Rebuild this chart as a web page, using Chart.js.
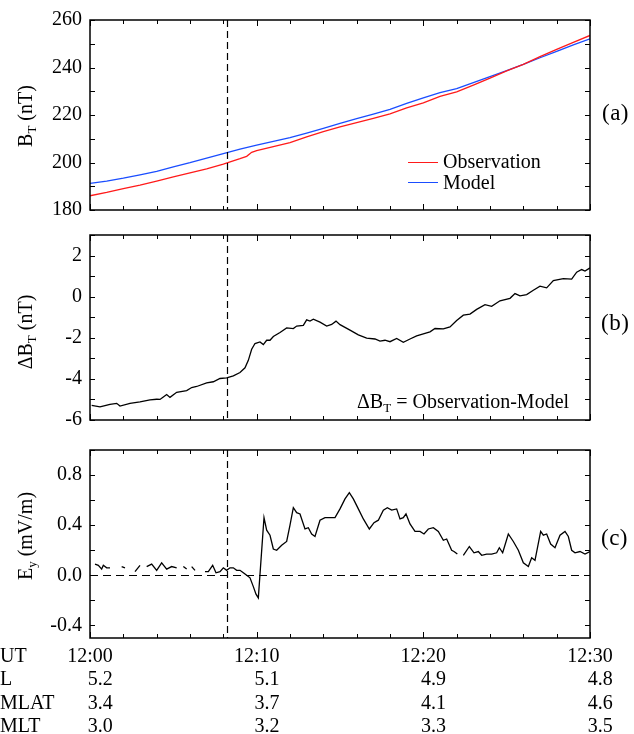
<!DOCTYPE html>
<html>
<head>
<meta charset="utf-8">
<script src="https://cdn.jsdelivr.net/npm/chart.js@4.4.1/dist/chart.umd.min.js"></script>
<style>
  body { margin: 0; background: #fff; }
  #wrap { position: relative; width: 634px; height: 734px; overflow: hidden;
          font-family: 'Liberation Serif', 'Times New Roman', serif; color: #000; }
  canvas { position: absolute; left: 0; }
  .txt { position: absolute; font-size: 20px; line-height: 20px; white-space: nowrap; }
  .txt sub { font-size: 13px; line-height: 0; vertical-align: -4px; }
  .ytitle { transform: translate(-50%, -50%) rotate(-90deg); }
  .tag { font-size: 23px; line-height: 23px; letter-spacing: 0.5px; }
  .key { position: absolute; width: 30px; height: 0; }
</style>
</head>
<body>
<div id="wrap">
  <canvas id="panelA" width="634" height="230" style="top:0px"></canvas>
  <canvas id="panelB" width="634" height="225" style="top:215px"></canvas>
  <canvas id="panelC" width="634" height="304" style="top:430px"></canvas>

  <div class="txt ytitle" style="left:25px; top:116px">B<sub>T</sub> (nT)</div>
  <div class="txt ytitle" style="left:25px; top:332px">ΔB<sub>T</sub> (nT)</div>
  <div class="txt ytitle" style="left:25px; top:536px">E<sub>y</sub> (mV/m)</div>

  <div class="txt tag" style="left:602px; top:101px">(a)</div>
  <div class="txt tag" style="left:601px; top:311px">(b)</div>
  <div class="txt tag" style="left:601px; top:526px">(c)</div>

  <div class="key" style="left:408px; top:162px; border-top:1.5px solid #ff1a1a"></div>
  <div class="txt" style="left:443px; top:151px">Observation</div>
  <div class="key" style="left:408px; top:182px; border-top:1.5px solid #1a4dff"></div>
  <div class="txt" style="left:443px; top:172px">Model</div>

  <div class="txt" style="left:357px; top:391px">ΔB<sub>T</sub> = Observation-Model</div>
</div>

<script>
// time axis is minutes after 12:00 UT
const markerT = 8.2;

// panel (a): total field
const obsTime = [0,1,2,3,4,5,6,7,8,9,9.4,9.7,10,11,12,13,14,15,16,17,18,19,20,21,22,23,24,25,26,27,28,29,30];
const obsBT = [186.0,187.4,189.0,190.5,192.2,193.9,195.6,197.3,199.3,201.6,202.6,204.3,205.0,206.7,208.4,210.8,
               213.0,215.0,216.8,218.6,220.5,223.0,225.1,227.8,229.7,232.6,235.5,238.6,241.3,244.6,247.6,250.6,253.5];
const modelTime = [0,1,2,3,4,5,6,7,8,9,10,11,12,13,14,15,16,17,18,19,20,21,22,23,24,25,26,27,28,29,30];
const modelBT = [191.2,192.2,193.4,194.8,196.3,198.2,199.9,201.8,203.7,205.6,207.3,208.9,210.5,212.4,214.4,216.5,
                 218.5,220.4,222.4,224.9,227.2,229.4,231.1,233.6,236.2,238.7,241.3,244.1,246.8,249.5,252.1];

// panel (b): observation - model
const dbTime = [0.1,0.6,1.2,1.6,1.8,2.4,3.0,3.6,4.0,4.2,4.4,4.6,4.8,5.2,5.8,6.1,6.4,7.0,7.4,7.8,8.2,8.6,9.0,9.3,9.5,
                9.7,9.9,10.2,10.4,10.6,10.8,11.0,11.4,11.8,12.2,12.4,12.8,13.0,13.2,13.4,13.8,14.2,14.5,14.76,15.0,
                15.6,16.1,16.6,17.1,17.4,17.7,18.0,18.4,18.8,19.2,19.6,20.0,20.4,20.7,21.2,21.6,22.0,22.4,22.8,23.2,
                23.7,24.1,24.6,25.2,25.5,25.8,26.2,26.6,27.0,27.4,27.8,28.4,28.9,29.2,29.5,29.7,30.0];
const dbVal = [-5.29,-5.36,-5.24,-5.19,-5.32,-5.19,-5.12,-5.02,-4.99,-5.00,-4.88,-4.76,-4.90,-4.65,-4.57,-4.42,-4.37,
               -4.19,-4.14,-3.98,-3.95,-3.85,-3.69,-3.46,-3.10,-2.56,-2.28,-2.20,-2.33,-2.12,-2.12,-1.94,-1.74,-1.52,
               -1.55,-1.43,-1.40,-1.13,-1.19,-1.10,-1.24,-1.43,-1.35,-1.19,-1.36,-1.63,-1.86,-2.02,-2.06,-2.16,-2.12,
               -2.19,-2.03,-2.22,-2.06,-1.91,-1.81,-1.71,-1.55,-1.57,-1.47,-1.16,-0.90,-0.85,-0.62,-0.39,-0.47,-0.20,
               -0.08,0.15,0.04,0.10,0.31,0.51,0.43,0.78,0.88,0.85,1.19,1.32,1.25,1.40];

// panel (c): electric field, null = data gap
const eyTime = [0.3,0.5,0.7,0.8,1.0,1.2,1.5,1.9,2.1,2.4,2.7,3.0,3.2,3.4,3.7,4.0,4.3,4.6,4.9,5.2,5.4,5.6,5.8,5.95,
                6.1,6.3,6.6,6.9,7.1,7.36,7.56,7.8,8.0,8.2,8.4,8.6,8.8,9.0,9.2,9.4,9.6,9.8,9.96,10.1,10.44,10.6,10.8,
                11.0,11.2,11.5,11.8,12.0,12.2,12.4,12.6,12.9,13.1,13.3,13.5,13.8,14.1,14.4,14.7,15.0,15.3,15.56,15.8,
                16.1,16.4,16.76,17.04,17.3,17.6,17.84,18.1,18.4,18.6,18.8,18.96,19.2,19.5,19.8,20.04,20.3,20.6,20.9,
                21.2,21.4,21.7,21.84,22.04,22.2,22.4,22.76,23.04,23.3,23.5,23.8,24.1,24.4,24.56,24.76,25.1,25.4,25.7,
                26.0,26.3,26.5,26.7,27.04,27.2,27.4,27.64,27.9,28.2,28.5,28.7,28.9,29.1,29.4,29.7,30.0];
const eyVal = [0.09,0.08,0.05,0.08,0.06,0.06,null,0.07,0.06,null,0.03,0.08,null,0.07,0.09,0.04,0.10,0.05,0.07,0.06,
               null,0.07,0.05,null,0.07,0.04,null,0.03,0.03,0.08,0.02,0.03,0.06,0.04,0.06,0.06,0.04,0.04,0.02,0.00,
               -0.02,-0.09,-0.15,-0.18,0.46,0.36,0.32,0.21,0.20,0.24,0.27,0.40,0.54,0.50,0.49,0.37,0.38,0.33,0.31,
               0.44,0.46,0.46,0.46,0.53,0.61,0.66,0.61,0.53,0.45,0.37,0.42,0.44,0.52,0.54,0.52,0.53,0.45,0.46,0.49,
               0.41,0.35,0.35,0.33,0.37,0.38,0.35,0.28,0.29,0.20,0.19,0.17,null,0.16,0.23,0.18,0.19,0.16,0.17,0.17,
               0.18,0.22,0.18,0.33,0.27,0.20,0.10,0.07,0.14,0.12,0.35,0.32,0.33,0.25,0.22,0.32,0.35,0.31,0.20,0.18,
               0.19,0.17,0.19];

// orbit table under the time axis
const tableTimes = [0, 10, 20, 30];
const utLabels = ['12:00', '12:10', '12:20', '12:30'];
const lValues = ['5.2', '5.1', '4.9', '4.8'];
const mlatValues = ['3.4', '3.7', '4.1', '4.6'];
const mltValues = ['3.0', '3.2', '3.3', '3.5'];

const FONT = 'Liberation Serif';

function points(times, vals) {
    return times.map((t, i) => ({ x: t, y: vals[i] }));
}

// box, inward ticks, dashed marker line
const framePlugin = {
    id: 'frame',
    afterDraw(chart, args, opts) {
        const { ctx, chartArea: a, scales: { x, y } } = chart;
        ctx.save();
        ctx.strokeStyle = '#000';

        ctx.lineWidth = 1.2;
        ctx.setLineDash([7, 4]);
        const xm = Math.round(x.getPixelForValue(markerT)) + 0.5;
        ctx.beginPath();
        ctx.moveTo(xm, a.top);
        ctx.lineTo(xm, a.bottom);
        ctx.stroke();

        if (opts.zeroLine) {
            ctx.setLineDash([8, 5]);
            const y0 = Math.round(y.getPixelForValue(0)) + 0.5;
            ctx.beginPath();
            ctx.moveTo(a.left, y0);
            ctx.lineTo(a.right, y0);
            ctx.stroke();
        }
        ctx.setLineDash([]);

        ctx.lineWidth = 1.5;
        ctx.strokeRect(a.left, a.top, a.right - a.left, a.bottom - a.top);

        ctx.lineWidth = 1;
        ctx.beginPath();
        for (let t = 0; t <= 30; t += 2) {
            const px = Math.round(x.getPixelForValue(t)) + 0.5;
            const len = t % 10 === 0 ? 6 : 4;
            ctx.moveTo(px, a.top); ctx.lineTo(px, a.top + len);
            ctx.moveTo(px, a.bottom); ctx.lineTo(px, a.bottom - len);
        }
        const i0 = Math.ceil(y.min / opts.minor - 1e-6);
        const i1 = Math.floor(y.max / opts.minor + 1e-6);
        for (let i = i0; i <= i1; i++) {
            const py = Math.round(y.getPixelForValue(i * opts.minor)) + 0.5;
            ctx.moveTo(a.left, py); ctx.lineTo(a.left + 5, py);
            ctx.moveTo(a.right, py); ctx.lineTo(a.right - 5, py);
        }
        ctx.stroke();
        ctx.restore();
    }
};

const tablePlugin = {
    id: 'table',
    afterDraw(chart) {
        const { ctx, chartArea: a, scales: { x } } = chart;
        const rows = [['UT', utLabels], ['L', lValues], ['MLAT', mlatValues], ['MLT', mltValues]];
        const baselines = [24, 47, 71, 94];
        ctx.save();
        ctx.font = `20px "${FONT}"`;
        ctx.fillStyle = '#000';
        ctx.textBaseline = 'alphabetic';
        rows.forEach(([name, vals], r) => {
            const yb = a.bottom + baselines[r];
            ctx.textAlign = 'left';
            ctx.fillText(name, 0, yb);
            vals.forEach((v, i) => {
                const cx = x.getPixelForValue(tableTimes[i]);
                const half = ctx.measureText(utLabels[i]).width / 2;
                if (r === 0) {
                    ctx.textAlign = 'center';
                    ctx.fillText(v, cx, yb);
                } else {
                    ctx.textAlign = 'right';
                    ctx.fillText(v, cx + half, yb);
                }
            });
        });
        ctx.restore();
    }
};

function lineSet(data, color) {
    return { data, borderColor: color, borderWidth: 1.3, pointRadius: 0, tension: 0, fill: false, spanGaps: false };
}

function makePanel(id, datasets, yMin, yMax, step, fmt, pad, frame, extra) {
    return new Chart(document.getElementById(id), {
        type: 'line',
        data: { datasets },
        options: {
            responsive: false,
            animation: false,
            devicePixelRatio: 1,
            layout: { padding: pad },
            plugins: { legend: { display: false }, tooltip: { enabled: false }, frame },
            scales: {
                x: { type: 'linear', min: 0, max: 30, display: false },
                y: {
                    type: 'linear', min: yMin, max: yMax,
                    grid: { display: false, drawTicks: false },
                    border: { display: false },
                    ticks: {
                        stepSize: step, includeBounds: false, padding: 8, color: '#000',
                        font: { family: FONT, size: 20 },
                        callback: fmt
                    },
                    afterFit: s => { s.width = 90; }
                }
            }
        },
        plugins: [framePlugin].concat(extra || [])
    });
}

makePanel('panelA',
    [lineSet(points(obsTime, obsBT), '#ff1a1a'), lineSet(points(modelTime, modelBT), '#1a4dff')],
    180, 260, 20, v => String(Math.round(v)),
    { left: 0, right: 44, top: 20, bottom: 18 }, { minor: 10 });

makePanel('panelB',
    [lineSet(points(dbTime, dbVal), '#000')],
    -6, 3, 2, v => String(Math.round(v)),
    { left: 0, right: 44, top: 15, bottom: 16 }, { minor: 1 });

makePanel('panelC',
    [lineSet(points(eyTime, eyVal), '#000')],
    -0.5, 1.0, 0.4, v => v.toFixed(1),
    { left: 0, right: 44, top: 15, bottom: 96 }, { minor: 0.2, zeroLine: true }, [tablePlugin]);
</script>
</body>
</html>
